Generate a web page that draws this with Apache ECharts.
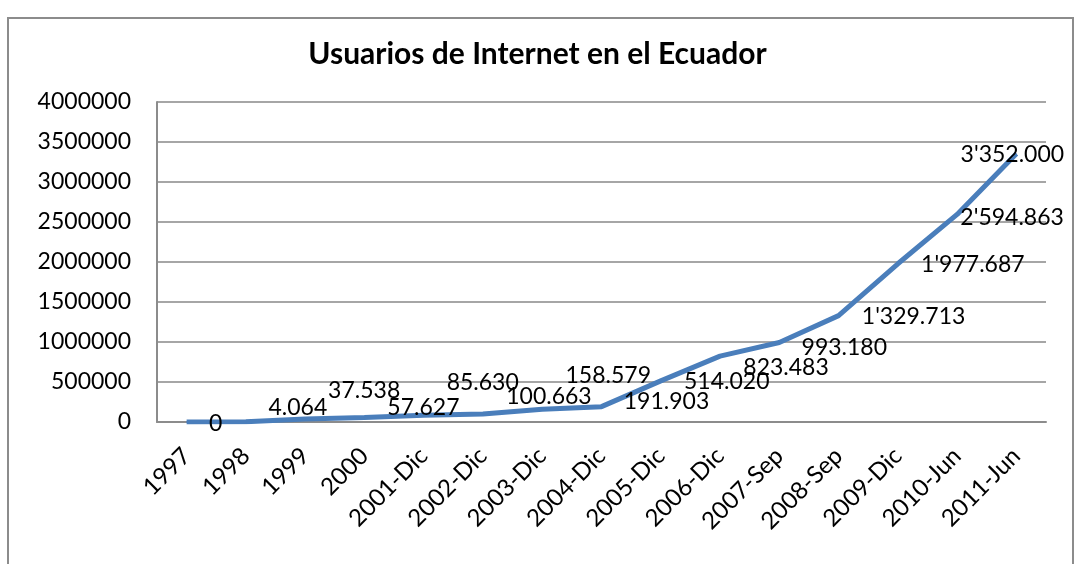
<!DOCTYPE html>
<html>
<head>
<meta charset="utf-8">
<script src="https://cdn.jsdelivr.net/npm/echarts@6/dist/echarts.min.js"></script>
<style>
  html, body { margin: 0; padding: 0; background: #fff; }
  #chart { width: 1075px; height: 564px; }
</style>
</head>
<body>
<div id="chart"></div>
<script>
// categorías del eje x
let categories = ['1997', '1998', '1999', '2000', '2001-Dic', '2002-Dic', '2003-Dic', '2004-Dic',
    '2005-Dic', '2006-Dic', '2007-Sep', '2008-Sep', '2009-Dic', '2010-Jun', '2011-Jun'];
// usuarios de internet
let usuarios = [0, 4064, 37538, 57627, 85630, 100663, 158579, 191903,
    514020, 823483, 993180, 1329713, 1977687, 2594863, 3352000];
// marcas del eje y
let yTicks = [0, 500000, 1000000, 1500000, 2000000, 2500000, 3000000, 3500000, 4000000];
// desplazamiento de cada etiqueta respecto a su punto (como en el original)
let labelOffsets = [[29, 2], [52, -14], [59, -28], [59, -10], [59, -33], [66, -17], [66, -34], [65, -5],
    [66, 1], [66, 11], [65, 5], [75, 1], [75, 1], [55, 3], [-4, 1]];

const FONT = 'Lato';

// 3352000 -> 3'352.000
function formato(v) {
    let s = String(Math.round(v));
    let partes = [];
    while (s.length > 3) {
        partes.unshift(s.slice(-3));
        s = s.slice(0, -3);
    }
    partes.unshift(s);
    let res = partes[0];
    for (let i = 1; i < partes.length; i++) {
        let sep = (partes.length - i === 2) ? "'" : '.';
        res += sep + partes[i];
    }
    return res;
}

let myChart = echarts.init(document.getElementById('chart'));
let option = {
    animation: false,
    backgroundColor: '#fff',
    textStyle: { fontFamily: FONT, color: '#000' },
    graphic: [{
        type: 'rect',
        shape: { x: 8, y: 18, width: 1065, height: 600 },
        style: { fill: 'none', stroke: '#8c8c8c', lineWidth: 2 }
    }],
    title: {
        text: 'Usuarios de Internet en el Ecuador',
        left: 'center',
        top: 34,
        textStyle: { fontFamily: FONT, fontSize: 30, fontWeight: 'bold', color: '#000' }
    },
    grid: { left: 157, right: 29, top: 102, bottom: 142 },
    xAxis: {
        type: 'category',
        data: categories,
        boundaryGap: true,
        axisLine: { lineStyle: { color: '#8c8c8c', width: 2 } },
        axisTick: { show: false },
        axisLabel: {
            interval: 0,
            rotate: 45,
            margin: 30,
            fontFamily: FONT,
            fontSize: 24,
            color: '#000'
        }
    },
    yAxis: {
        type: 'value',
        min: yTicks[0],
        max: yTicks[yTicks.length - 1],
        interval: yTicks[1] - yTicks[0],
        axisLine: { show: true, lineStyle: { color: '#8c8c8c', width: 2 } },
        axisTick: { show: false },
        splitLine: { lineStyle: { color: '#a6a6a6', width: 2 } },
        axisLabel: {
            margin: 26,
            fontFamily: FONT,
            fontSize: 23,
            color: '#000',
            formatter: v => String(v)
        }
    },
    series: [{
        type: 'line',
        data: usuarios.map((v, i) => ({
            value: v,
            label: { offset: labelOffsets[i] }
        })),
        symbol: 'circle',
        symbolSize: 1,
        itemStyle: { color: '#4a7ebb' },
        lineStyle: { color: '#4a7ebb', width: 5 },
        label: {
            show: true,
            position: 'inside',
            fontFamily: FONT,
            fontSize: 23,
            color: '#000',
            formatter: p => formato(p.value)
        },
        z: 3
    }]
};
myChart.setOption(option);
</script>
</body>
</html>
